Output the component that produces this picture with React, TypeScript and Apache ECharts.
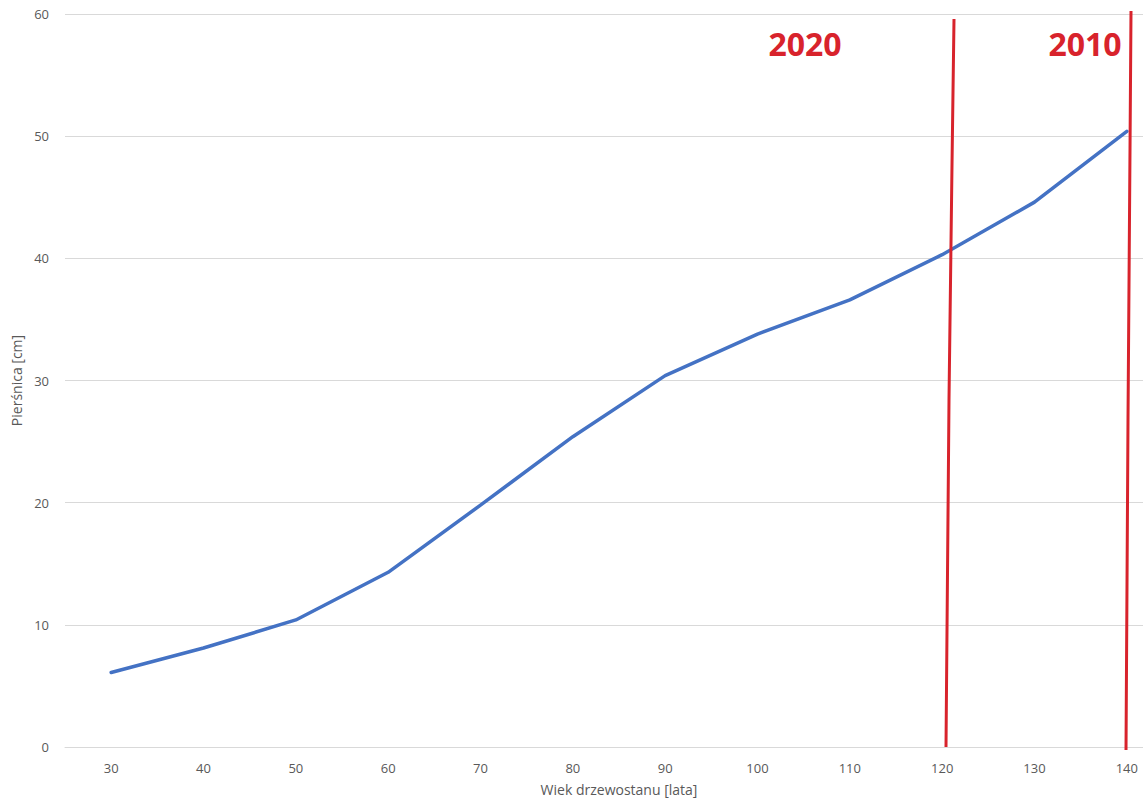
import React, { useEffect, useRef } from "react";
import * as echarts from "echarts";

const ages = ["30", "40", "50", "60", "70", "80", "90", "100", "110", "120", "130", "140"];
const dbh = [6.1, 8.1, 10.4, 14.3, 19.8, 25.4, 30.4, 33.8, 36.6, 40.3, 44.6, 50.4];
const yTicks = { min: 0, max: 60, interval: 10 };
const markerLabels = ["2020", "2010"];

export default function App() {
  const ref = useRef<HTMLDivElement>(null);
  useEffect(() => {
    if (!ref.current) return;
    const chart = echarts.init(ref.current, null, { renderer: "svg" });
    const font = "'Open Sans', 'Liberation Sans', sans-serif";
    const red = "#d8232c";
    chart.setOption({
      animation: false,
      backgroundColor: "#ffffff",
      grid: { left: 65, width: 1108, top: 14, bottom: 60, containLabel: false, outerBoundsMode: "none" },
      xAxis: {
        type: "category",
        data: ages,
        boundaryGap: true,
        name: "Wiek drzewostanu [lata]",
        nameLocation: "middle",
        nameGap: 35,
        nameTextStyle: { color: "#595959", fontSize: 14, fontFamily: font },
        axisLine: { show: true, lineStyle: { color: "#d9d9d9", width: 1 } },
        axisTick: { show: false },
        axisLabel: { color: "#595959", fontSize: 13, fontFamily: font, margin: 14 },
        splitLine: { show: false },
      },
      yAxis: {
        type: "value",
        min: yTicks.min,
        max: yTicks.max,
        interval: yTicks.interval,
        name: "Pierśnica [cm]",
        nameLocation: "middle",
        nameGap: 41,
        nameRotate: 90,
        nameTextStyle: { color: "#595959", fontSize: 14, fontFamily: font },
        axisLine: { show: false },
        axisTick: { show: false },
        axisLabel: { color: "#595959", fontSize: 13, fontFamily: font, margin: 16 },
        splitLine: { lineStyle: { color: "#d9d9d9", width: 1 } },
      },
      series: [
        {
          type: "line",
          data: dbh,
          symbol: "none",
          lineStyle: { color: "#4472c4", width: 3.5, cap: "round", join: "round" },
        },
      ],
      graphic: [
        {
          type: "polyline",
          shape: { points: [[954, 19], [952, 165], [949, 400], [946, 747]] },
          style: { stroke: red, lineWidth: 3, fill: null },
          z: 100,
        },
        {
          type: "polyline",
          shape: { points: [[1131, 11], [1130, 150], [1128, 420], [1126, 750]] },
          style: { stroke: red, lineWidth: 3, fill: null },
          z: 100,
        },
        {
          type: "text",
          x: 805,
          y: 43,
          style: {
            text: markerLabels[0],
            fill: red,
            font: "bold 32px 'Open Sans', 'Liberation Sans', sans-serif",
            textAlign: "center",
            textVerticalAlign: "middle",
          },
          z: 100,
        },
        {
          type: "text",
          x: 1085,
          y: 43,
          style: {
            text: markerLabels[1],
            fill: red,
            font: "bold 32px 'Open Sans', 'Liberation Sans', sans-serif",
            textAlign: "center",
            textVerticalAlign: "middle",
          },
          z: 100,
        },
      ],
    });
    return () => chart.dispose();
  }, []);
  return (
    <div
      ref={ref}
      style={{ position: "fixed", left: 0, top: 0, width: 1143, height: 807, background: "#fff" }}
    />
  );
}
